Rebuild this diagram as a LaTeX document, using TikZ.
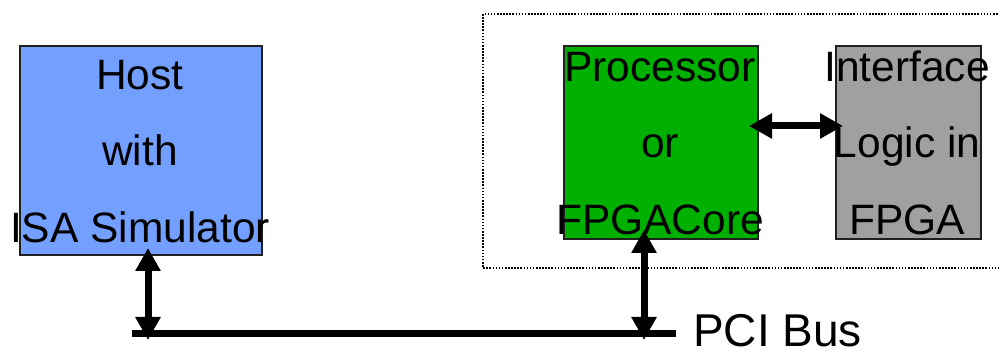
\documentclass[tikz,border=0pt]{standalone}
\usepackage{fontspec}
\setmainfont{Liberation Sans}
\usetikzlibrary{arrows.meta,calc}
\definecolor{hostblue}{HTML}{739FFF}
\definecolor{coregreen}{HTML}{00B000}
\definecolor{ifgray}{HTML}{A0A0A0}
\definecolor{edge}{HTML}{202020}
\begin{document}
\begin{tikzpicture}[x=1pt,y=-1pt,
  blockbox/.style={draw=edge,line width=1.6pt,inner sep=0pt,anchor=north west},
  linetext/.style={anchor=base,inner sep=0pt,font=\fontsize{42.5}{50}\selectfont},
  bustext/.style={anchor=base west,inner sep=0pt,font=\fontsize{46}{50}\selectfont},
  busline/.style={line width=7pt},
  biarrow/.style={line width=7pt,{Triangle[width=24pt,length=23pt]}-{Triangle[width=24pt,length=23pt]}},
  groupframe/.style={draw=black,line width=1.6pt,dash pattern=on 1.6pt off 1.5pt}
]
\useasboundingbox (0,0) rectangle (999,352);
% dotted group
\draw[groupframe] (1010,14) -- (483,14) -- (483,268) -- (1010,268);
% boxes
\node[blockbox,fill=hostblue,minimum width=242pt,minimum height=209pt] (host) at (19,45) {};
\node[blockbox,fill=coregreen,minimum width=194pt,minimum height=193pt] (core) at (563,45) {};
\node[blockbox,fill=ifgray,minimum width=145pt,minimum height=193pt] (iface) at (835,45) {};
% bus
\coordinate (busL) at (132,333.5);
\coordinate (busR) at (676,333.5);
\draw[busline] (busL) -- (busR);
\coordinate (hostTip) at (148,248);
\coordinate (hostBus) at (148,340);
\coordinate (coreTip) at (644,230);
\coordinate (coreBus) at (644,340);
\coordinate (coreR) at (749,126);
\coordinate (ifaceL) at (843,126);
\draw[biarrow] (hostTip) -- (hostBus);
\draw[biarrow] (coreTip) -- (coreBus);
\draw[biarrow] (coreR) -- (ifaceL);
% texts
\node[linetext] (h1) at (140,90) {Host};
\node[linetext] (h2) at (140,166) {with};
\node[linetext] (h3) at (140,243) {ISA Simulator};
\node[linetext] (c1) at (660,82) {Processor};
\node[linetext] (c2) at (660,158) {or};
\node[linetext] (c3) at (660,235) {FPGACore};
\node[linetext] (i1) at (907,82) {Interface};
\node[linetext] (i2) at (907,158) {Logic in};
\node[linetext] (i3) at (907,235) {FPGA};
\node[bustext] (pci) at (693,347) {PCI Bus};
\end{tikzpicture}
\end{document}
